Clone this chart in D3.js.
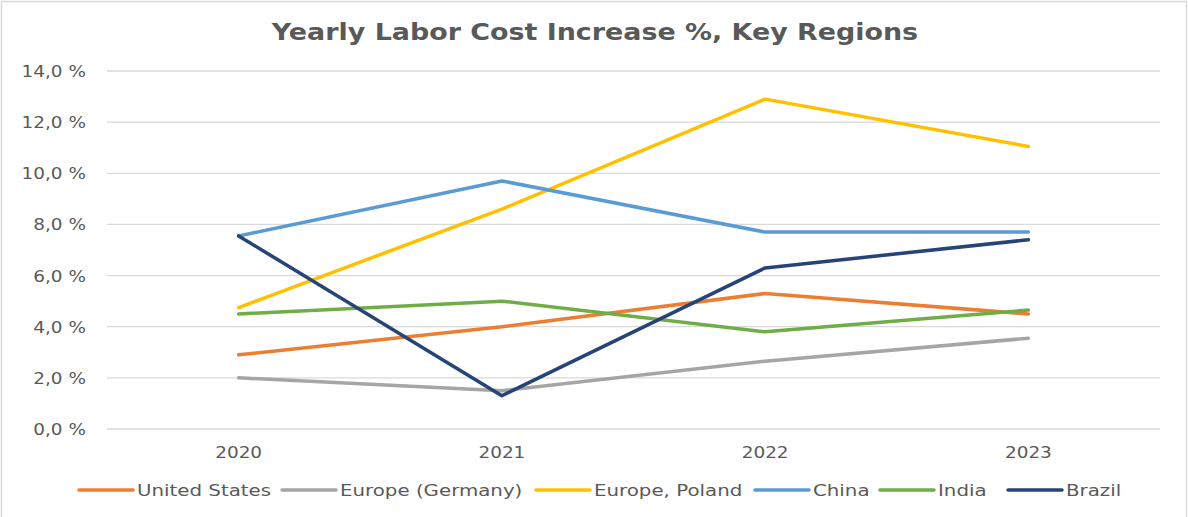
<!DOCTYPE html>
<html>
<head>
<meta charset="utf-8">
<script src="https://cdn.jsdelivr.net/npm/d3@7"></script>
<style>
  body { margin: 0; background: #fff; }
  text { font-family: "DejaVu Sans", Verdana, sans-serif; fill: #595959; }
</style>
</head>
<body>
<svg id="chart" width="1188" height="517"></svg>
<script>
var years = ['2020', '2021', '2022', '2023'];
var seriesNames = ['United States', 'Europe (Germany)', 'Europe, Poland', 'China', 'India', 'Brazil'];
var seriesColors = ['#ED7D31', '#A5A5A5', '#FFC000', '#5B9BD5', '#70AD47', '#264478'];
var unitedStates = [2.9, 4.0, 5.3, 4.5];
var germany = [2.0, 1.5, 2.65, 3.55];
var poland = [4.75, 8.6, 12.9, 11.05];
var china = [7.55, 9.7, 7.7, 7.7];
var india = [4.5, 5.0, 3.8, 4.65];
var brazil = [7.55, 1.3, 6.3, 7.4];
var yTicks = [0, 2, 4, 6, 8, 10, 12, 14];

var seriesValues = [unitedStates, germany, poland, china, india, brazil];

var svg = d3.select('#chart');
var margin = { left: 107, right: 28, top: 71, bottom: 88 };
var width = 1188, height = 517;

// the source picture has its text stretched sideways
function stretched(sx) {
    return function (px, py) { return 'translate(' + px + ',' + py + ') scale(' + sx + ',1)'; };
}
var titleT = stretched(1.17), tickT = stretched(1.12), legendT = stretched(1.2);

// chart border (bottom edge is cut off in the source)
svg.append('rect')
    .attr('x', 1.5).attr('y', 1.5)
    .attr('width', 1185).attr('height', 530)
    .attr('fill', '#fff')
    .attr('stroke', '#d9d9d9')
    .attr('stroke-width', 1.5);

svg.append('text')
    .attr('transform', titleT(595, 40))
    .attr('text-anchor', 'middle')
    .style('font-size', '23px')
    .style('font-weight', 'bold')
    .text('Yearly Labor Cost Increase %, Key Regions');

var x = d3.scaleBand()
    .domain(years)
    .range([margin.left, width - margin.right]);

var y = d3.scaleLinear()
    .domain([0, 14])
    .range([height - margin.bottom, margin.top]);

// gridlines
svg.append('g')
    .selectAll('line')
    .data(yTicks)
    .enter()
    .append('line')
    .attr('x1', margin.left)
    .attr('x2', width - margin.right)
    .attr('y1', function (d) { return y(d); })
    .attr('y2', function (d) { return y(d); })
    .attr('stroke', '#d9d9d9')
    .attr('stroke-width', 1.3);

// y labels
svg.append('g')
    .selectAll('text')
    .data(yTicks)
    .enter()
    .append('text')
    .attr('transform', function (d) { return tickT(86, y(d) + 6); })
    .attr('text-anchor', 'end')
    .style('font-size', '16.5px')
    .text(function (d) { return d.toFixed(1).replace('.', ',') + ' %'; });

// x labels
svg.append('g')
    .selectAll('text')
    .data(years)
    .enter()
    .append('text')
    .attr('transform', function (d) { return tickT(x(d) + x.bandwidth() / 2, 458); })
    .attr('text-anchor', 'middle')
    .style('font-size', '16.5px')
    .text(function (d) { return d; });

var line = d3.line()
    .x(function (d, i) { return x(years[i]) + x.bandwidth() / 2; })
    .y(function (d) { return y(d); });

svg.append('g')
    .selectAll('path')
    .data(seriesValues)
    .enter()
    .append('path')
    .attr('d', function (d) { return line(d); })
    .attr('fill', 'none')
    .attr('stroke', function (d, i) { return seriesColors[i]; })
    .attr('stroke-width', 3.5)
    .attr('stroke-linecap', 'round')
    .attr('stroke-linejoin', 'round');

// legend
var legendX = [79, 282, 536, 755, 880, 1008];
var legend = svg.append('g')
    .selectAll('g')
    .data(seriesNames)
    .enter()
    .append('g')
    .attr('transform', function (d, i) { return 'translate(' + legendX[i] + ',490)'; });

legend.append('line')
    .attr('x1', 0).attr('x2', 54)
    .attr('y1', 0).attr('y2', 0)
    .attr('stroke', function (d, i) { return seriesColors[i]; })
    .attr('stroke-width', 3.5)
    .attr('stroke-linecap', 'round');

legend.append('text')
    .attr('transform', legendT(58, 6))
    .style('font-size', '16.5px')
    .text(function (d) { return d; });
</script>
</body>
</html>
